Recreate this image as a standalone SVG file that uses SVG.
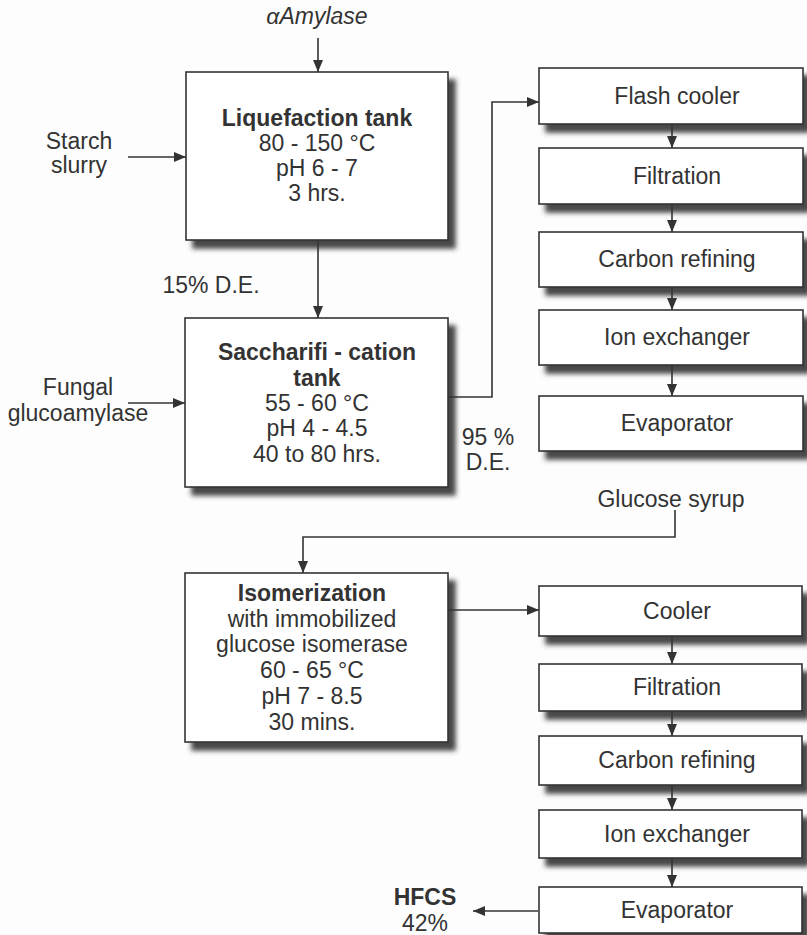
<svg xmlns="http://www.w3.org/2000/svg" width="807" height="935" viewBox="0 0 807 935">
<style>
text{font-family:"Liberation Sans",Arial,sans-serif;font-size:23px;fill:#333;text-anchor:middle}
.b{font-weight:bold}
.box{fill:#fff;stroke:#333;stroke-width:1.6;filter:url(#sh)}
.ln{fill:none;stroke:#333;stroke-width:1.6;marker-end:url(#ah)}
</style>
<defs>
<filter id="sh" x="-10%" y="-10%" width="130%" height="140%">
<feGaussianBlur in="SourceAlpha" stdDeviation="2.8"/>
<feOffset dx="7" dy="8" result="o"/>
<feFlood flood-color="#333" flood-opacity="0.9"/>
<feComposite in2="o" operator="in"/>
<feMerge><feMergeNode/><feMergeNode in="SourceGraphic"/></feMerge>
</filter>
<marker id="ah" markerUnits="userSpaceOnUse" markerWidth="14" markerHeight="12" refX="12" refY="5" orient="auto">
<path d="M0,0 L12,5 L0,10 Z" fill="#333"/>
</marker>
</defs>
<rect width="807" height="935" fill="#fdfdfd"/>
<g id="connectors">
<path class="ln" d="M318,38 L318,72"/>
<path class="ln" d="M128,157 L186,157"/>
<path class="ln" d="M318,240 L318,318"/>
<path class="ln" d="M128,403 L185,403"/>
<path class="ln" d="M448,397 L492,397 L492,102 L539,102"/>
<path class="ln" d="M672,124 L672,148"/>
<path class="ln" d="M672,204 L672,232"/>
<path class="ln" d="M672,287 L672,310"/>
<path class="ln" d="M672,365 L672,396"/>
<path class="ln" d="M675,510 L675,537 L303,537 L303,573"/>
<path class="ln" d="M448,610 L539,610"/>
<path class="ln" d="M672,636 L672,664"/>
<path class="ln" d="M672,711 L672,736"/>
<path class="ln" d="M672,785 L672,810"/>
<path class="ln" d="M672,858 L672,887"/>
<path class="ln" d="M538,911 L473,911"/>
</g>
<g id="labels">
<text x="317" y="24" font-style="italic">αAmylase</text>
<text x="79" y="149">Starch</text>
<text x="79" y="173">slurry</text>
<text x="211" y="293">15% D.E.</text>
<text x="78" y="395">Fungal</text>
<text x="78" y="421">glucoamylase</text>
<text x="488" y="445">95 %</text>
<text x="488" y="470">D.E.</text>
<text x="671" y="507">Glucose syrup</text>
<text x="425" y="905" class="b">HFCS</text>
<text x="425" y="931">42%</text>
</g>
<g id="liquefaction">
<rect class="box" x="186" y="72" width="262" height="168"/>
<text x="317" y="126" class="b">Liquefaction tank</text>
<text x="317" y="151">80 - 150 °C</text>
<text x="317" y="176">pH 6 - 7</text>
<text x="317" y="201">3 hrs.</text>
</g>
<g id="saccharification">
<rect class="box" x="185" y="318" width="263" height="169"/>
<text x="317" y="360" class="b">Saccharifi - cation</text>
<text x="317" y="386" class="b">tank</text>
<text x="317" y="411">55 - 60 °C</text>
<text x="317" y="436">pH 4 - 4.5</text>
<text x="317" y="462">40 to 80 hrs.</text>
</g>
<g id="flash-cooler"><rect class="box" x="539" y="68" width="264" height="56"/><text x="677" y="104">Flash cooler</text></g>
<g id="filtration1"><rect class="box" x="539" y="148" width="264" height="56"/><text x="677" y="184">Filtration</text></g>
<g id="carbon1"><rect class="box" x="539" y="232" width="264" height="55"/><text x="677" y="267">Carbon refining</text></g>
<g id="ion1"><rect class="box" x="539" y="310" width="264" height="55"/><text x="677" y="345">Ion exchanger</text></g>
<g id="evaporator1"><rect class="box" x="539" y="396" width="264" height="55"/><text x="677" y="431">Evaporator</text></g>
<g id="isomerization">
<rect class="box" x="185" y="573" width="263" height="169"/>
<text x="312" y="601" class="b">Isomerization</text>
<text x="312" y="627">with immobilized</text>
<text x="312" y="652">glucose isomerase</text>
<text x="312" y="678">60 - 65 °C</text>
<text x="312" y="704">pH 7 - 8.5</text>
<text x="312" y="730">30 mins.</text>
</g>
<g id="cooler"><rect class="box" x="539" y="586" width="263" height="50"/><text x="677" y="619">Cooler</text></g>
<g id="filtration2"><rect class="box" x="539" y="664" width="263" height="47"/><text x="677" y="695">Filtration</text></g>
<g id="carbon2"><rect class="box" x="539" y="736" width="263" height="49"/><text x="677" y="768">Carbon refining</text></g>
<g id="ion2"><rect class="box" x="539" y="810" width="263" height="48"/><text x="677" y="842">Ion exchanger</text></g>
<g id="evaporator2"><rect class="box" x="539" y="887" width="263" height="46"/><text x="677" y="918">Evaporator</text></g>
</svg>
